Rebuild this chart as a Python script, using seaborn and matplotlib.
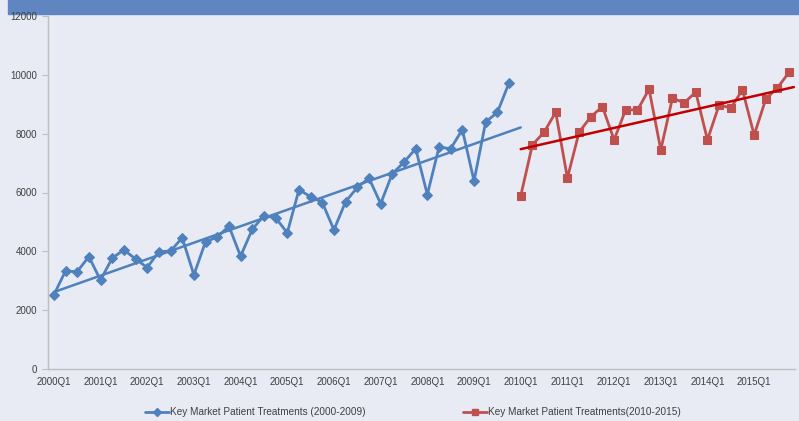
import numpy as np
import pandas as pd
import seaborn as sns
import matplotlib.pyplot as plt
from matplotlib.patches import Rectangle
from matplotlib.lines import Line2D

# category labels: every quarter from 2000Q1 to 2015Q4
quarters = [f"{y}Q{q}" for y in range(2000, 2016) for q in range(1, 5)]

treat_0009 = [2520, 3330, 3310, 3820, 3020, 3770, 4050, 3740, 3450, 3990,
              4010, 4460, 3200, 4330, 4480, 4860, 3830, 4750, 5210, 5140,
              4630, 6090, 5860, 5660, 4730, 5690, 6170, 6490, 5620, 6640,
              7030, 7490, 5930, 7540, 7490, 8140, 6390, 8400, 8720, 9730]
treat_1015 = [5880, 7620, 8050, 8730, 6490, 8050, 8570, 8920, 7790, 8820,
              8800, 9510, 7450, 9210, 9050, 9410, 7790, 8980, 8870, 9490,
              7950, 9180, 9560, 10090]

label_a = "Key Market Patient Treatments (2000-2009)"
label_b = "Key Market Patient Treatments(2010-2015)"

bg = "#E8EAF4"
blue = "#4F81BD"
red = "#C0504D"
txt = "#404040"

sns.set_theme(style="white", rc={"axes.facecolor": bg, "figure.facecolor": bg})
plt.rcParams['font.family'] = ['Liberation Sans', 'DejaVu Sans']

df_a = pd.DataFrame({"pos": np.arange(len(treat_0009)), "val": treat_0009})
df_b = pd.DataFrame({"pos": np.arange(len(treat_1015)) + len(treat_0009), "val": treat_1015})

fig = plt.figure(figsize=(7.99, 4.21), dpi=100)
ax = fig.add_axes([48 / 799, 52 / 421, 747 / 799, 353 / 421])

sns.lineplot(data=df_a, x="pos", y="val", ax=ax, color=blue, marker="D", markersize=5,
             markeredgecolor=blue, linewidth=2, legend=False)
sns.lineplot(data=df_b, x="pos", y="val", ax=ax, color=red, marker="s", markersize=6,
             markeredgecolor=red, linewidth=2, legend=False)

# linear trendlines
ka, ba = np.polyfit(df_a["pos"], df_a["val"], 1)
xa = np.array([0, len(treat_0009)])
ax.plot(xa, ka * xa + ba, color=blue, linewidth=1.8)
kb, bb = np.polyfit(df_b["pos"], df_b["val"], 1)
xb = np.array([len(treat_0009), len(quarters) - 0.6])
ax.plot(xb, kb * xb + bb, color="#C00000", linewidth=1.8)

ax.set_xlim(-0.5, len(quarters) - 0.5)
ax.set_ylim(0, 12000)
ax.set_yticks(range(0, 12001, 2000))
ax.set_xticks(range(0, len(quarters), 4))
ax.set_xticklabels(quarters[::4])
ax.set_xlabel("")
ax.set_ylabel("")
ax.tick_params(axis="x", length=0, pad=6, labelsize=7, labelcolor=txt)
ax.tick_params(axis="y", length=4, width=0.8, color="#BFBFBF", pad=4, labelsize=7, labelcolor=txt, left=True)
for s in ["top", "right"]:
    ax.spines[s].set_visible(False)
for s in ["left", "bottom"]:
    ax.spines[s].set_color("#BFBFBF")
    ax.spines[s].set_linewidth(1)

# legend proxies with smaller markers, like the original
h = [Line2D([], [], color=blue, marker="D", markersize=4, linewidth=2),
     Line2D([], [], color=red, marker="s", markersize=4.5, linewidth=2)]
fig.legend(h, [label_a, label_b], loc="lower center", bbox_to_anchor=(0.517, -0.012), ncol=2,
           frameon=False, fontsize=7.2, labelcolor=txt, handlelength=2.4, handletextpad=0.1,
           columnspacing=9.8)

# top banner strip
fig.patches.append(Rectangle((8 / 799, 1 - 14 / 421), 1, 14 / 421, transform=fig.transFigure,
                             color="#5F86C1", zorder=-1))

fig.savefig("out.png", dpi=100)
